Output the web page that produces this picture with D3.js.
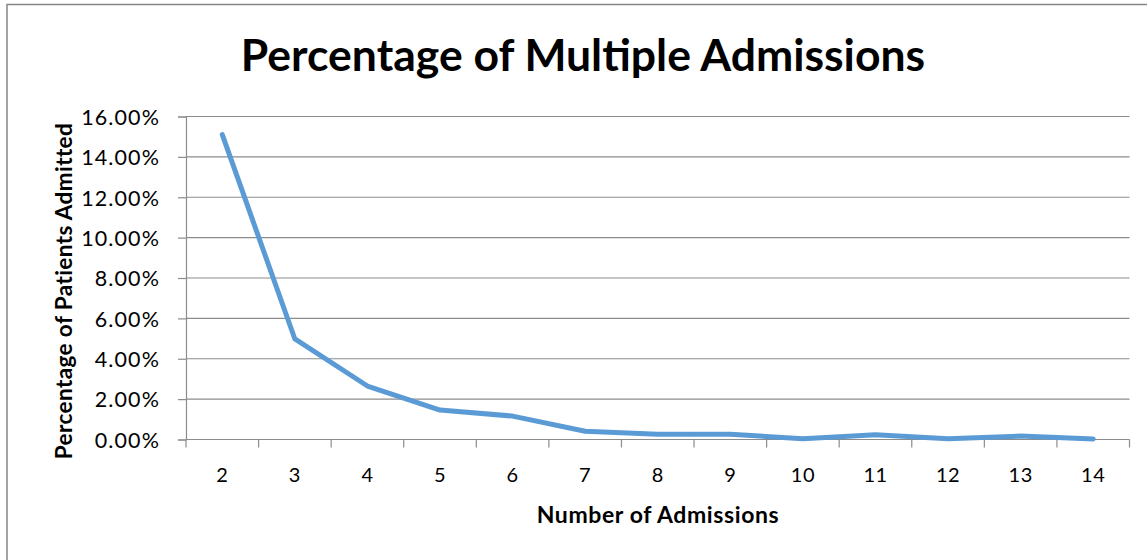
<!DOCTYPE html>
<html>
<head>
<meta charset="utf-8">
<script src="https://cdn.jsdelivr.net/npm/d3@7"></script>
<style>
  html, body { margin: 0; padding: 0; background: #fff; }
  svg { display: block; font-family: Lato, "Open Sans", sans-serif; }
</style>
</head>
<body>
<svg id="chart" width="1147" height="560"></svg>
<script>
// Number of admissions per patient (categories)
const admissions = ["2", "3", "4", "5", "6", "7", "8", "9", "10", "11", "12", "13", "14"];
// Share of patients admitted that many times (fraction)
const shareAdmitted = [0.1510, 0.0498, 0.0265, 0.0146, 0.0116, 0.0041, 0.0026, 0.0026, 0.0004, 0.0024, 0.0004, 0.0017, 0.0003];
// Value axis ticks
const yTicks = [0, 0.02, 0.04, 0.06, 0.08, 0.10, 0.12, 0.14, 0.16];

const titleText = "Percentage of Multiple Admissions";
const xTitleText = "Number of Admissions";
const yTitleText = "Percentage of Patients Admitted";

const svg = d3.select("#chart");
const W = 1147, H = 560;
const plot = { left: 186, right: 1129.5, top: 116.5, bottom: 439.5 };

// Chart frame
svg.append("rect")
  .attr("x", 7).attr("y", 4.5)
  .attr("width", W + 10).attr("height", H + 10)
  .attr("fill", "#fff").attr("stroke", "#868686").attr("stroke-width", 1.5);

const x = d3.scaleBand().domain(admissions).range([plot.left, plot.right]);
const y = d3.scaleLinear().domain([0, 0.16]).range([plot.bottom, plot.top]);

// Horizontal gridlines
svg.append("g")
  .selectAll("line").data(yTicks.filter(d => d > 0)).join("line")
  .attr("x1", plot.left).attr("x2", plot.right)
  .attr("y1", d => y(d)).attr("y2", d => y(d))
  .attr("stroke", "#8c8c8c").attr("stroke-width", 1.2);

// Y axis
const yAxis = svg.append("g")
  .attr("transform", `translate(${plot.left},0)`)
  .call(d3.axisLeft(y).tickValues(yTicks).tickFormat(d3.format(".2%")).tickSize(8).tickPadding(18));
yAxis.select(".domain").attr("stroke", "#8c8c8c").attr("stroke-width", 1.2);
yAxis.selectAll(".tick line").attr("stroke", "#8c8c8c").attr("stroke-width", 1.2);
yAxis.selectAll(".tick text")
  .attr("fill", "#000").attr("font-size", 21.5).attr("font-family", "Lato, sans-serif")
  .attr("letter-spacing", 1.1)
  .attr("dy", "0.36em");

// X axis: ticks sit on band boundaries, labels at band centres
const xAxis = svg.append("g").attr("transform", `translate(0,${plot.bottom})`);
xAxis.append("line")
  .attr("x1", plot.left).attr("x2", plot.right)
  .attr("stroke", "#8c8c8c").attr("stroke-width", 1.2);
const boundaries = admissions.map(d => x(d)).concat([plot.right]);
xAxis.selectAll("line.tick").data(boundaries).join("line")
  .attr("class", "tick")
  .attr("x1", d => d).attr("x2", d => d)
  .attr("y1", 0).attr("y2", 8)
  .attr("stroke", "#8c8c8c").attr("stroke-width", 1.2);
xAxis.selectAll("text").data(admissions).join("text")
  .attr("x", d => x(d) + x.bandwidth() / 2)
  .attr("y", 42.5)
  .attr("text-anchor", "middle")
  .attr("font-size", 20)
  .attr("letter-spacing", 0.5)
  .attr("fill", "#000")
  .text(d => d);

// Data line
const line = d3.line()
  .x((d, i) => x(admissions[i]) + x.bandwidth() / 2)
  .y(d => y(d));
svg.append("path")
  .datum(shareAdmitted)
  .attr("d", line)
  .attr("fill", "none")
  .attr("stroke", "#5b9bd5")
  .attr("stroke-width", 5)
  .attr("stroke-linejoin", "round")
  .attr("stroke-linecap", "round");

// Titles
svg.append("text")
  .attr("x", 583).attr("y", 71)
  .attr("text-anchor", "middle")
  .attr("font-size", 44.5).attr("font-weight", "bold")
  .attr("fill", "#000")
  .text(titleText);

svg.append("text")
  .attr("x", 658).attr("y", 523)
  .attr("text-anchor", "middle")
  .attr("font-size", 23).attr("font-weight", "bold")
  .attr("letter-spacing", 0.6)
  .attr("fill", "#000")
  .text(xTitleText);

svg.append("text")
  .attr("transform", "translate(72,291) rotate(-90)")
  .attr("text-anchor", "middle")
  .attr("font-size", 22.5).attr("font-weight", "bold")
  .attr("letter-spacing", 0.4)
  .attr("fill", "#000")
  .text(yTitleText);
</script>
</body>
</html>
